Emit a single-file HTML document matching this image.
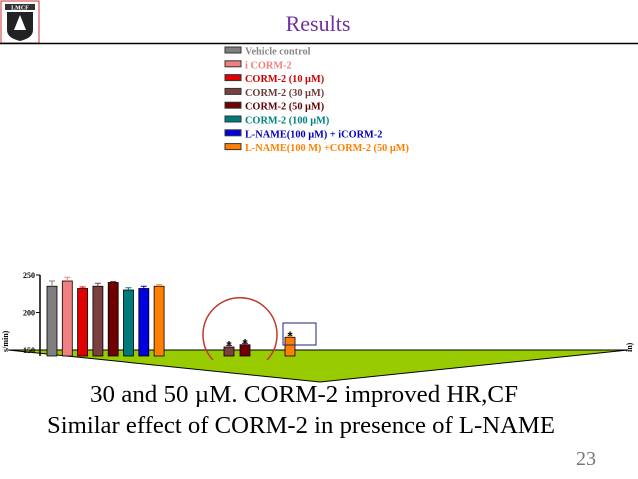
<!DOCTYPE html>
<html><head><meta charset="utf-8"><style>
body{margin:0;width:638px;height:479px;background:#fff;overflow:hidden;font-family:"Liberation Serif",serif}
</style></head><body>
<svg width="638" height="479" style="position:absolute;left:0;top:0">
<g>
<rect x="1" y="1" width="38" height="42" fill="#fff" stroke="#c33" stroke-width="1"/>
<rect x="5" y="4" width="30" height="6" fill="#333"/>
<text x="20" y="9.5" font-size="6" fill="#fff" text-anchor="middle" font-weight="bold">LMCF</text>
<path d="M7,12 H33 V30 Q33,38 20,41 Q7,38 7,30 Z" fill="#222"/>
<path d="M20,15 L26,30 H14 Z" fill="#fff"/>
</g>
<line x1="0" y1="43.5" x2="638" y2="43.5" stroke="#000" stroke-width="1.5"/>
<text x="318" y="31" font-size="22" fill="#7030a0" text-anchor="middle">Results</text>
<g id="legend"></g>
<polygon points="8,350 628,350 320,382" fill="#99cc00" stroke="#000" stroke-width="1"/>
<g id="chart"></g>
<path d="M213,360 A37,37 0 1 1 267,360" fill="none" stroke="#c0392b" stroke-width="1.5"/>
<rect x="283" y="323" width="33" height="22" fill="none" stroke="#1a237e" stroke-width="1"/>
<text x="8" y="352" font-size="8" font-weight="bold" transform="rotate(-90 8 352)">s/min)</text>
<text x="632" y="352" font-size="8" font-weight="bold" transform="rotate(-90 632 352)">in)</text>
<text x="90" y="402" font-size="24" textLength="428" lengthAdjust="spacingAndGlyphs">30 and 50 µM. CORM-2 improved HR,CF</text>
<text x="47" y="433" font-size="24" textLength="508" lengthAdjust="spacingAndGlyphs">Similar effect of CORM-2 in presence of L-NAME</text>
<text x="576" y="465" font-size="20" fill="#777">23</text>
</svg>
<script>
const legendLabels=["Vehicle control","i CORM-2","CORM-2 (10 µM)","CORM-2 (30 µM)","CORM-2 (50 µM)","CORM-2 (100 µM)","L-NAME(100 µM) + iCORM-2","L-NAME(100 M) +CORM-2 (50 µM)"];
const legendColors=["#7f7f7f","#f08080","#e00000","#7a4040","#700000","#007b7b","#0000e0","#ff8000"];
const legendText=["#888","#f08080","#d00000","#6b3b3b","#600000","#008080","#0000c0","#ff8000"];
const group1=[235,242,232,235,240,230,232,235];
const group1Err=[7,5,2,4,1,3,3,2];
const group2Labels=["CORM-2 (30 µM)","CORM-2 (50 µM)"];
const group2=[154,157];
const group2Colors=["#7a4040","#700000"];
const group3=[167];
const yTicks=[150,200,250];
const NS="http://www.w3.org/2000/svg";
function y(v){return 350-(v-150)*0.75;}
const base=y(142);
function mk(t,a,p){const e=document.createElementNS(NS,t);for(const k in a)e.setAttribute(k,a[k]);p.appendChild(e);return e;}
const lg=document.getElementById('legend');
legendLabels.forEach((l,i)=>{
 const yy=51+i*13.8;
 const r=mk('rect',{x:225,y:yy-4,width:16,height:6,fill:legendColors[i],stroke:'#333','stroke-width':1},lg);
 
 
 const t=mk('text',{x:245,y:yy+3.5,'font-size':10.3,'font-weight':'bold',fill:legendText[i]},lg);
 t.textContent=l;
 
 
});
const ch=document.getElementById('chart');
const ax=mk('line',{x1:40,y1:y(250),x2:40,y2:base,stroke:'#000','stroke-width':1.5},ch);


yTicks.forEach(v=>{
 mk('line',{x1:36,y1:y(v),x2:40,y2:y(v),stroke:'#000'},ch);
 const t=mk('text',{x:35,y:y(v)+3,'font-size':8,'font-weight':'bold','text-anchor':'end'},ch);
 t.textContent=v;
 
 
});
function bar(cx,v,col,err,star){
 const b=mk('rect',{x:cx-5,y:y(v),width:10,height:base-y(v),fill:col,stroke:'#000','stroke-width':0.8},ch);
 
 
 if(err){mk('line',{x1:cx,y1:y(v),x2:cx,y2:y(v+err),stroke:col},ch);mk('line',{x1:cx-3,y1:y(v+err),x2:cx+3,y2:y(v+err),stroke:col},ch);}
 if(star){const s=mk('text',{x:cx,y:y(v)+3,'font-size':13,'text-anchor':'middle','font-weight':'bold','font-family':'Liberation Sans, sans-serif'},ch);s.textContent='*';
 
 }
}
group1.forEach((v,i)=>bar(52+i*15.3,v,legendColors[i],group1Err[i],false));
group2.forEach((v,i)=>bar(229+i*16,v,group2Colors[i],2,true));
group3.forEach((v,i)=>bar(290,v,"#ff8000",2,true));
</script>
</body></html>
